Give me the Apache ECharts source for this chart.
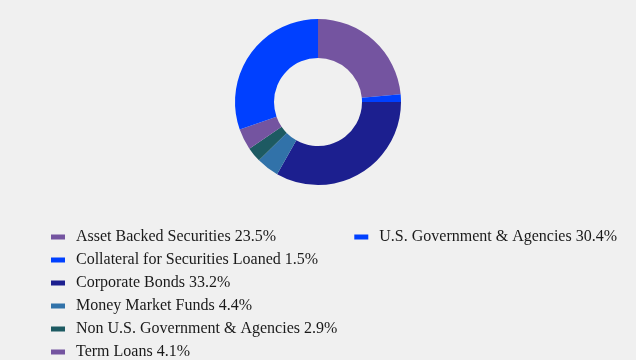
<!DOCTYPE html>
<html>
<head>
<meta charset="utf-8">
<script src="https://cdn.jsdelivr.net/npm/echarts@6/dist/echarts.min.js"></script>
<style>
  html, body { margin: 0; padding: 0; background: #f0f0f0; }
  #chart { width: 636px; height: 360px; }
</style>
</head>
<body>
<div id="chart"></div>
<script>
// holdings breakdown
const categories = [
  'Asset Backed Securities',
  'Collateral for Securities Loaned',
  'Corporate Bonds',
  'Money Market Funds',
  'Non U.S. Government & Agencies',
  'Term Loans',
  'U.S. Government & Agencies'
]
const values = [23.5, 1.5, 33.2, 4.4, 2.9, 4.1, 30.4]
const colors = ['#7454a0', '#0040ff', '#1c1f8f', '#3172a9', '#1d5a62', '#7454a0', '#0040ff']

const labelFor = {}
categories.forEach((c, i) => { labelFor[c] = c + ' ' + values[i].toFixed(1) + '%' })

const myChart = echarts.init(document.getElementById('chart'))

myChart.setOption({
  backgroundColor: '#f0f0f0',
  animation: false,
  color: colors,
  legend: {
    orient: 'vertical',
    left: 46,
    top: 224,
    height: 140,
    itemWidth: 14,
    itemHeight: 5,
    itemGap: 7,
    icon: 'rect',
    formatter: name => labelFor[name],
    textStyle: {
      fontFamily: 'Liberation Serif',
      fontSize: 16,
      lineHeight: 16,
      color: '#1a1a1a',
      padding: [0, 10, 0, 6]
    }
  },
  series: [{
    type: 'pie',
    center: [318, 102],
    radius: [44, 83],
    startAngle: 90,
    clockwise: true,
    label: { show: false },
    labelLine: { show: false },
    itemStyle: { borderWidth: 0 },
    emphasis: { disabled: true },
    data: categories.map((c, i) => ({ name: c, value: values[i] }))
  }]
})
</script>
</body>
</html>
